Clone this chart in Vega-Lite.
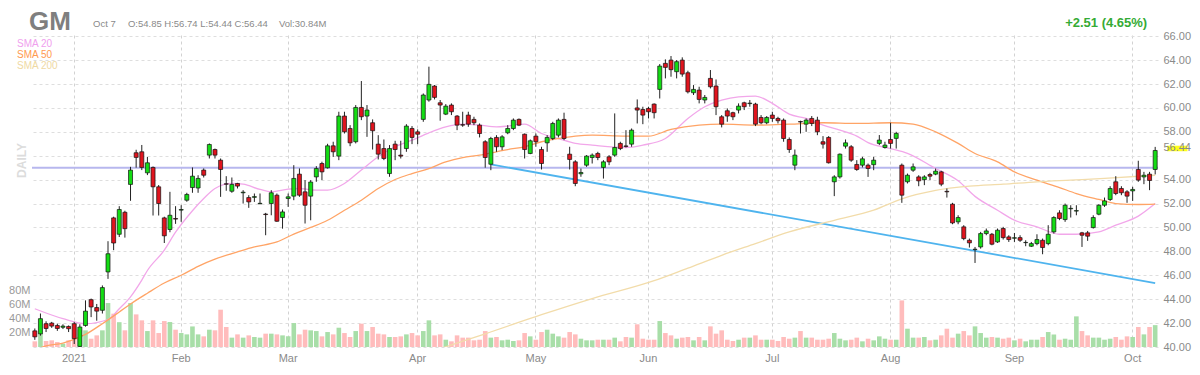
{
"$schema":"https://vega.github.io/schema/vega-lite/v6.json",
"width":1126,"height":312,
"autosize":{"type":"none"},
"padding":{"left":32,"top":35,"right":42,"bottom":28},
"config":{"view":{"stroke":null},"font":"Liberation Sans","axis":{"labelColor":"#8a8a8a","labelFontSize":11,"domain":false,"ticks":false,"tickSize":0,"gridDash":[3,3],"labelOverlap":false,"labelBound":false}},
"title":{"text":"GM","anchor":"start","frame":"group","fontSize":26,"font":"Liberation Sans","fontWeight":"bold","color":"#7f7f7f","dx":-3,"dy":20,"offset":2},
"datasets":{
"p":[
{"d":"2020-12-22","o":41.35,"h":41.55,"l":40.6,"c":40.85,"v":8},
{"d":"2020-12-23","o":41.1,"h":42.8,"l":40.95,"c":42.37,"v":18.8},
{"d":"2020-12-24","o":41.95,"h":42.15,"l":41.25,"c":41.55,"v":8.5},
{"d":"2020-12-28","o":42.0,"h":42.1,"l":41.6,"c":41.75,"v":9.4},
{"d":"2020-12-29","o":41.8,"h":41.95,"l":41.35,"c":41.55,"v":7},
{"d":"2020-12-30","o":41.65,"h":41.9,"l":41.5,"c":41.75,"v":4.7},
{"d":"2020-12-31","o":41.72,"h":41.8,"l":41.25,"c":41.53,"v":9.4},
{"d":"2021-01-04","o":41.95,"h":42.1,"l":40.25,"c":40.7,"v":11.7},
{"d":"2021-01-05","o":40.05,"h":41.9,"l":40.0,"c":41.67,"v":24.4},
{"d":"2021-01-06","o":41.8,"h":43.9,"l":41.7,"c":43.0,"v":23.5},
{"d":"2021-01-07","o":43.96,"h":44.05,"l":42.5,"c":43.35,"v":11.7},
{"d":"2021-01-08","o":43.3,"h":43.6,"l":42.2,"c":43.0,"v":16.4},
{"d":"2021-01-11","o":43.07,"h":45.15,"l":42.8,"c":44.97,"v":23.5},
{"d":"2021-01-12","o":46.28,"h":48.85,"l":45.7,"c":47.8,"v":62},
{"d":"2021-01-13","o":50.8,"h":50.9,"l":48.1,"c":48.7,"v":47},
{"d":"2021-01-14","o":49.43,"h":51.78,"l":49.2,"c":51.5,"v":35},
{"d":"2021-01-15","o":51.27,"h":51.4,"l":49.15,"c":49.9,"v":23.5},
{"d":"2021-01-19","o":53.6,"h":55.07,"l":52.23,"c":54.8,"v":62},
{"d":"2021-01-20","o":56.25,"h":56.5,"l":55.0,"c":55.86,"v":46},
{"d":"2021-01-21","o":56.33,"h":56.9,"l":54.8,"c":55.02,"v":37.6},
{"d":"2021-01-22","o":54.57,"h":55.9,"l":54.38,"c":55.41,"v":22.5},
{"d":"2021-01-25","o":55.02,"h":55.1,"l":51.0,"c":53.4,"v":37.6},
{"d":"2021-01-26","o":53.4,"h":53.55,"l":51.0,"c":52.0,"v":19.7},
{"d":"2021-01-27","o":50.8,"h":50.9,"l":48.7,"c":49.3,"v":36.6},
{"d":"2021-01-28","o":49.83,"h":52.98,"l":49.6,"c":51.02,"v":35.2},
{"d":"2021-01-29","o":50.75,"h":51.78,"l":50.3,"c":50.7,"v":24.4},
{"d":"2021-02-01","o":51.45,"h":51.86,"l":50.47,"c":51.5,"v":19.7},
{"d":"2021-02-02","o":52.28,"h":52.9,"l":52.15,"c":52.76,"v":17.8},
{"d":"2021-02-03","o":53.34,"h":55.02,"l":52.9,"c":54.29,"v":29},
{"d":"2021-02-04","o":53.3,"h":54.37,"l":52.9,"c":54.1,"v":17.8},
{"d":"2021-02-05","o":54.8,"h":54.94,"l":54.18,"c":54.37,"v":15},
{"d":"2021-02-08","o":56.05,"h":57.03,"l":55.77,"c":56.94,"v":24.4},
{"d":"2021-02-09","o":56.52,"h":56.6,"l":55.77,"c":56.05,"v":23.5},
{"d":"2021-02-10","o":55.63,"h":55.77,"l":52.56,"c":54.85,"v":52.6},
{"d":"2021-02-11","o":53.65,"h":54.29,"l":53.07,"c":53.62,"v":28.2},
{"d":"2021-02-12","o":53.03,"h":54.18,"l":52.9,"c":53.6,"v":13.2},
{"d":"2021-02-16","o":53.68,"h":53.73,"l":53.26,"c":53.46,"v":17.8},
{"d":"2021-02-17","o":52.9,"h":53.12,"l":52.0,"c":52.95,"v":13.2},
{"d":"2021-02-18","o":52.5,"h":52.7,"l":51.64,"c":52.14,"v":16.4},
{"d":"2021-02-19","o":52.52,"h":52.84,"l":52.14,"c":52.58,"v":14.1},
{"d":"2021-02-22","o":51.98,"h":52.84,"l":51.95,"c":52.02,"v":13.2},
{"d":"2021-02-23","o":51.12,"h":51.22,"l":49.35,"c":51.08,"v":18.8},
{"d":"2021-02-24","o":52.0,"h":53.12,"l":51.02,"c":52.9,"v":18.8},
{"d":"2021-02-25","o":52.7,"h":52.84,"l":50.47,"c":50.52,"v":17.8},
{"d":"2021-02-26","o":50.83,"h":51.5,"l":49.9,"c":51.3,"v":16.4},
{"d":"2021-03-01","o":52.42,"h":52.84,"l":51.72,"c":52.56,"v":15},
{"d":"2021-03-02","o":52.62,"h":55.21,"l":52.28,"c":54.1,"v":33.8},
{"d":"2021-03-03","o":54.46,"h":54.94,"l":52.56,"c":52.7,"v":17.8},
{"d":"2021-03-04","o":52.98,"h":53.96,"l":50.33,"c":51.86,"v":24.4},
{"d":"2021-03-05","o":52.62,"h":53.96,"l":50.6,"c":53.8,"v":23.5},
{"d":"2021-03-08","o":54.23,"h":55.13,"l":53.82,"c":54.93,"v":22.5},
{"d":"2021-03-09","o":55.35,"h":55.5,"l":53.96,"c":54.65,"v":15},
{"d":"2021-03-10","o":54.99,"h":57.0,"l":54.93,"c":56.83,"v":21.1},
{"d":"2021-03-11","o":56.83,"h":57.17,"l":55.9,"c":56.33,"v":17.8},
{"d":"2021-03-12","o":55.97,"h":59.68,"l":55.63,"c":59.32,"v":27.2},
{"d":"2021-03-15","o":59.32,"h":59.68,"l":57.86,"c":58.0,"v":19.7},
{"d":"2021-03-16","o":58.28,"h":58.56,"l":56.8,"c":57.08,"v":14.1},
{"d":"2021-03-17","o":57.17,"h":60.24,"l":57.03,"c":60.04,"v":22.5},
{"d":"2021-03-18","o":60.04,"h":62.25,"l":58.98,"c":59.26,"v":32.9},
{"d":"2021-03-19","o":59.32,"h":60.24,"l":57.58,"c":59.82,"v":22.5},
{"d":"2021-03-22","o":58.76,"h":59.04,"l":56.52,"c":58.09,"v":28.2},
{"d":"2021-03-23","o":56.97,"h":57.72,"l":55.69,"c":56.13,"v":18.8},
{"d":"2021-03-24","o":56.6,"h":57.36,"l":55.63,"c":55.77,"v":17.8},
{"d":"2021-03-25","o":54.51,"h":56.89,"l":54.24,"c":56.6,"v":14.1},
{"d":"2021-03-26","o":56.97,"h":57.25,"l":55.63,"c":56.52,"v":14.1},
{"d":"2021-03-29","o":56.05,"h":57.25,"l":55.77,"c":55.97,"v":15},
{"d":"2021-03-30","o":56.6,"h":58.64,"l":56.33,"c":58.48,"v":17.8},
{"d":"2021-03-31","o":58.28,"h":58.48,"l":56.97,"c":57.53,"v":19.7},
{"d":"2021-04-01","o":58.0,"h":58.2,"l":56.97,"c":57.8,"v":16.4},
{"d":"2021-04-05","o":59.04,"h":61.21,"l":58.84,"c":61.08,"v":22.5},
{"d":"2021-04-06","o":60.66,"h":63.45,"l":60.52,"c":61.97,"v":37.6},
{"d":"2021-04-07","o":61.83,"h":61.91,"l":60.71,"c":60.88,"v":16.4},
{"d":"2021-04-08","o":60.43,"h":60.66,"l":58.93,"c":60.24,"v":17.8},
{"d":"2021-04-09","o":59.48,"h":60.32,"l":59.4,"c":60.15,"v":10.3},
{"d":"2021-04-12","o":60.24,"h":60.38,"l":59.4,"c":59.68,"v":8},
{"d":"2021-04-13","o":59.32,"h":59.4,"l":58.14,"c":58.56,"v":16.4},
{"d":"2021-04-14","o":58.6,"h":59.68,"l":58.42,"c":58.56,"v":13.2},
{"d":"2021-04-15","o":59.4,"h":59.68,"l":58.42,"c":58.64,"v":13.2},
{"d":"2021-04-16","o":59.04,"h":59.26,"l":58.56,"c":58.76,"v":9.4},
{"d":"2021-04-19","o":58.56,"h":58.7,"l":57.53,"c":57.86,"v":10.3},
{"d":"2021-04-20","o":57.17,"h":57.3,"l":55.0,"c":55.85,"v":22.5},
{"d":"2021-04-21","o":55.29,"h":57.58,"l":54.79,"c":57.44,"v":13.2},
{"d":"2021-04-22","o":57.53,"h":57.72,"l":56.33,"c":56.75,"v":14.1},
{"d":"2021-04-23","o":56.75,"h":57.72,"l":56.47,"c":57.58,"v":9.4},
{"d":"2021-04-26","o":57.92,"h":58.56,"l":57.8,"c":58.28,"v":10.3},
{"d":"2021-04-27","o":58.28,"h":59.12,"l":58.14,"c":58.98,"v":8.5},
{"d":"2021-04-28","o":59.04,"h":59.12,"l":58.48,"c":58.56,"v":9.4},
{"d":"2021-04-29","o":57.8,"h":57.86,"l":55.77,"c":56.52,"v":19.7},
{"d":"2021-04-30","o":56.19,"h":57.36,"l":56.13,"c":57.25,"v":15},
{"d":"2021-05-03","o":57.64,"h":57.86,"l":56.75,"c":57.17,"v":10.3},
{"d":"2021-05-04","o":56.52,"h":56.75,"l":54.85,"c":55.35,"v":21.1},
{"d":"2021-05-05","o":57.08,"h":57.72,"l":56.33,"c":57.53,"v":24.4},
{"d":"2021-05-06","o":57.44,"h":58.84,"l":57.3,"c":58.7,"v":18.8},
{"d":"2021-05-07","o":57.72,"h":59.12,"l":57.53,"c":58.98,"v":15},
{"d":"2021-05-10","o":59.04,"h":59.6,"l":57.3,"c":57.44,"v":13.2},
{"d":"2021-05-11","o":56.13,"h":56.75,"l":54.85,"c":55.69,"v":21.1},
{"d":"2021-05-12","o":55.49,"h":55.63,"l":53.45,"c":53.68,"v":17.8},
{"d":"2021-05-13","o":54.49,"h":54.93,"l":54.24,"c":54.6,"v":11.7},
{"d":"2021-05-14","o":55.21,"h":56.05,"l":55.07,"c":55.97,"v":9.4},
{"d":"2021-05-17","o":55.85,"h":56.19,"l":55.35,"c":56.05,"v":9.4},
{"d":"2021-05-18","o":56.19,"h":56.33,"l":55.63,"c":55.85,"v":10.3},
{"d":"2021-05-19","o":55.02,"h":55.63,"l":54.09,"c":55.49,"v":10.3},
{"d":"2021-05-20","o":55.91,"h":56.05,"l":55.21,"c":55.49,"v":10.3},
{"d":"2021-05-21","o":56.05,"h":59.54,"l":55.91,"c":56.69,"v":13.2},
{"d":"2021-05-24","o":57.03,"h":57.17,"l":56.47,"c":56.6,"v":8},
{"d":"2021-05-25","o":56.82,"h":58.14,"l":56.69,"c":56.78,"v":14.1},
{"d":"2021-05-26","o":56.97,"h":58.28,"l":56.75,"c":58.14,"v":13.2},
{"d":"2021-05-27","o":60.0,"h":60.71,"l":58.7,"c":59.82,"v":32},
{"d":"2021-05-28","o":59.87,"h":60.1,"l":58.64,"c":59.4,"v":11.7},
{"d":"2021-06-01","o":59.96,"h":60.1,"l":59.12,"c":59.68,"v":10.3},
{"d":"2021-06-02","o":60.32,"h":60.38,"l":59.12,"c":59.6,"v":10.3},
{"d":"2021-06-03","o":61.55,"h":63.67,"l":60.79,"c":63.5,"v":36.6},
{"d":"2021-06-04","o":63.73,"h":64.06,"l":62.47,"c":63.39,"v":19.7},
{"d":"2021-06-07","o":64.0,"h":64.34,"l":62.61,"c":63.2,"v":16.4},
{"d":"2021-06-08","o":63.03,"h":64.0,"l":62.47,"c":63.87,"v":11.7},
{"d":"2021-06-09","o":64.0,"h":64.23,"l":62.61,"c":62.83,"v":13.2},
{"d":"2021-06-10","o":62.94,"h":63.11,"l":61.21,"c":61.35,"v":14.1},
{"d":"2021-06-11","o":61.27,"h":61.91,"l":61.08,"c":61.55,"v":9.4},
{"d":"2021-06-14","o":61.49,"h":61.77,"l":60.38,"c":60.71,"v":14.1},
{"d":"2021-06-15","o":60.66,"h":61.08,"l":60.38,"c":60.88,"v":9.4},
{"d":"2021-06-16","o":62.47,"h":63.17,"l":61.63,"c":61.77,"v":29.1},
{"d":"2021-06-17","o":61.83,"h":62.38,"l":59.4,"c":60.1,"v":18.8},
{"d":"2021-06-18","o":59.26,"h":59.4,"l":58.37,"c":58.64,"v":23.5},
{"d":"2021-06-21","o":59.76,"h":59.96,"l":58.84,"c":59.32,"v":10.3},
{"d":"2021-06-22","o":59.6,"h":59.68,"l":58.98,"c":59.26,"v":8.5},
{"d":"2021-06-23","o":59.82,"h":60.38,"l":59.54,"c":60.15,"v":10.3},
{"d":"2021-06-24","o":60.43,"h":60.52,"l":59.82,"c":60.1,"v":13.2},
{"d":"2021-06-25","o":60.36,"h":60.66,"l":60.1,"c":60.4,"v":13.2},
{"d":"2021-06-28","o":60.32,"h":60.43,"l":58.48,"c":58.64,"v":16.4},
{"d":"2021-06-29","o":59.2,"h":59.4,"l":58.64,"c":58.76,"v":10.3},
{"d":"2021-06-30","o":58.76,"h":59.32,"l":58.64,"c":59.2,"v":10.3},
{"d":"2021-07-01","o":59.4,"h":59.68,"l":58.84,"c":59.12,"v":10.3},
{"d":"2021-07-02","o":59.12,"h":59.26,"l":58.7,"c":58.93,"v":8.5},
{"d":"2021-07-06","o":58.98,"h":59.12,"l":57.17,"c":57.44,"v":14.1},
{"d":"2021-07-07","o":57.36,"h":57.53,"l":56.24,"c":56.52,"v":11.7},
{"d":"2021-07-08","o":55.21,"h":56.52,"l":54.79,"c":56.05,"v":13.2},
{"d":"2021-07-09","o":58.86,"h":58.93,"l":57.86,"c":58.82,"v":22.5},
{"d":"2021-07-12","o":58.64,"h":59.12,"l":58.0,"c":58.98,"v":13.2},
{"d":"2021-07-13","o":59.12,"h":59.32,"l":58.48,"c":58.7,"v":13.2},
{"d":"2021-07-14","o":58.98,"h":59.26,"l":57.72,"c":58.0,"v":10.3},
{"d":"2021-07-15","o":57.17,"h":57.64,"l":56.6,"c":56.97,"v":10.3},
{"d":"2021-07-16","o":57.53,"h":57.64,"l":55.35,"c":55.41,"v":11.7},
{"d":"2021-07-19","o":53.82,"h":54.37,"l":52.62,"c":54.23,"v":19.7},
{"d":"2021-07-20","o":54.23,"h":56.19,"l":54.09,"c":56.13,"v":11.7},
{"d":"2021-07-21","o":56.8,"h":57.36,"l":56.6,"c":57.08,"v":9.4},
{"d":"2021-07-22","o":56.75,"h":56.89,"l":55.49,"c":55.63,"v":10.3},
{"d":"2021-07-23","o":55.27,"h":55.63,"l":54.74,"c":54.85,"v":13.2},
{"d":"2021-07-26","o":55.21,"h":55.91,"l":55.02,"c":55.74,"v":8},
{"d":"2021-07-27","o":55.21,"h":55.35,"l":54.23,"c":54.93,"v":11.7},
{"d":"2021-07-28","o":55.25,"h":55.91,"l":54.79,"c":55.63,"v":9.4},
{"d":"2021-07-29","o":57.03,"h":57.73,"l":56.89,"c":57.31,"v":15},
{"d":"2021-07-30","o":56.69,"h":57.17,"l":56.6,"c":56.89,"v":11.7},
{"d":"2021-08-02","o":57.36,"h":58.76,"l":56.6,"c":57.03,"v":10.3},
{"d":"2021-08-03","o":57.45,"h":58.0,"l":56.6,"c":57.87,"v":10.3},
{"d":"2021-08-04","o":55.21,"h":55.35,"l":52.06,"c":52.7,"v":65.7},
{"d":"2021-08-05","o":53.82,"h":54.51,"l":53.68,"c":54.37,"v":25.8},
{"d":"2021-08-06","o":54.79,"h":55.35,"l":54.65,"c":55.07,"v":13.2},
{"d":"2021-08-09","o":54.23,"h":54.37,"l":53.45,"c":53.9,"v":13.2},
{"d":"2021-08-10","o":54.0,"h":54.37,"l":53.54,"c":54.23,"v":14.1},
{"d":"2021-08-11","o":54.43,"h":54.57,"l":53.96,"c":54.29,"v":9.4},
{"d":"2021-08-12","o":54.46,"h":54.93,"l":54.37,"c":54.71,"v":10.3},
{"d":"2021-08-13","o":54.65,"h":54.74,"l":53.45,"c":53.62,"v":16.4},
{"d":"2021-08-16","o":53.02,"h":53.26,"l":52.5,"c":52.98,"v":25.8},
{"d":"2021-08-17","o":51.95,"h":52.06,"l":50.27,"c":50.38,"v":13.2},
{"d":"2021-08-18","o":50.47,"h":51.02,"l":50.27,"c":50.83,"v":18.8},
{"d":"2021-08-19","o":50.05,"h":50.19,"l":48.93,"c":49.07,"v":22.5},
{"d":"2021-08-20","o":48.93,"h":49.07,"l":48.32,"c":48.71,"v":16.4},
{"d":"2021-08-23","o":48.15,"h":48.37,"l":47.03,"c":48.18,"v":29.1},
{"d":"2021-08-24","o":48.37,"h":49.63,"l":48.23,"c":49.49,"v":19.7},
{"d":"2021-08-25","o":49.49,"h":49.91,"l":49.35,"c":49.71,"v":13.2},
{"d":"2021-08-26","o":49.43,"h":49.54,"l":48.51,"c":48.6,"v":14.1},
{"d":"2021-08-27","o":48.79,"h":49.91,"l":48.71,"c":49.77,"v":13.2},
{"d":"2021-08-30","o":49.91,"h":50.05,"l":48.99,"c":49.15,"v":11.7},
{"d":"2021-08-31","o":49.21,"h":49.35,"l":48.79,"c":48.99,"v":13.2},
{"d":"2021-09-01","o":49.1,"h":49.54,"l":48.79,"c":49.14,"v":9.4},
{"d":"2021-09-02","o":49.15,"h":49.35,"l":48.79,"c":48.93,"v":11.7},
{"d":"2021-09-03","o":48.73,"h":48.93,"l":48.43,"c":48.75,"v":8},
{"d":"2021-09-07","o":48.43,"h":48.79,"l":48.37,"c":48.65,"v":10.3},
{"d":"2021-09-08","o":48.65,"h":49.43,"l":48.51,"c":48.99,"v":10.3},
{"d":"2021-09-09","o":48.93,"h":49.07,"l":47.76,"c":48.32,"v":14.1},
{"d":"2021-09-10","o":48.65,"h":50.19,"l":48.51,"c":49.43,"v":21.1},
{"d":"2021-09-13","o":49.63,"h":50.94,"l":49.49,"c":50.83,"v":17.8},
{"d":"2021-09-14","o":51.22,"h":51.44,"l":50.61,"c":50.75,"v":10.3},
{"d":"2021-09-15","o":50.66,"h":52.0,"l":50.47,"c":51.86,"v":11.7},
{"d":"2021-09-16","o":51.56,"h":51.86,"l":50.83,"c":51.6,"v":10.3},
{"d":"2021-09-17","o":51.37,"h":51.86,"l":51.02,"c":51.41,"v":43.2},
{"d":"2021-09-20","o":49.55,"h":49.63,"l":48.37,"c":49.35,"v":22.5},
{"d":"2021-09-21","o":49.55,"h":49.71,"l":48.88,"c":49.27,"v":16.4},
{"d":"2021-09-22","o":49.99,"h":51.02,"l":49.91,"c":50.83,"v":13.2},
{"d":"2021-09-23","o":51.11,"h":51.95,"l":51.02,"c":51.86,"v":13.2},
{"d":"2021-09-24","o":51.86,"h":52.5,"l":51.72,"c":52.22,"v":10.3},
{"d":"2021-09-27","o":52.34,"h":53.45,"l":52.22,"c":53.26,"v":11.7},
{"d":"2021-09-28","o":53.82,"h":54.29,"l":52.7,"c":52.84,"v":14.1},
{"d":"2021-09-29","o":53.26,"h":53.45,"l":52.7,"c":52.9,"v":10.3},
{"d":"2021-09-30","o":52.98,"h":53.12,"l":52.06,"c":52.62,"v":15},
{"d":"2021-10-01","o":53.06,"h":53.4,"l":52.22,"c":53.18,"v":14.1},
{"d":"2021-10-04","o":54.85,"h":55.58,"l":53.82,"c":53.96,"v":28.2},
{"d":"2021-10-05","o":54.23,"h":54.65,"l":53.62,"c":54.37,"v":17.8},
{"d":"2021-10-06","o":54.46,"h":54.65,"l":53.12,"c":53.93,"v":28.2},
{"d":"2021-10-07","o":54.85,"h":56.74,"l":54.44,"c":56.44,"v":30.84}
],
"s":[
{"d":"2020-12-22","k":"SMA 20","v":43.2},{"d":"2020-12-30","k":"SMA 20","v":42.37},{"d":"2021-01-06","k":"SMA 20","v":41.95},{"d":"2021-01-12","k":"SMA 20","v":42.3},{"d":"2021-01-14","k":"SMA 20","v":43.2},{"d":"2021-01-19","k":"SMA 20","v":44.2},{"d":"2021-01-21","k":"SMA 20","v":45.6},{"d":"2021-01-22","k":"SMA 20","v":46.4},{"d":"2021-01-27","k":"SMA 20","v":48.1},{"d":"2021-01-29","k":"SMA 20","v":49.6},{"d":"2021-02-03","k":"SMA 20","v":51.4},{"d":"2021-02-05","k":"SMA 20","v":52.42},{"d":"2021-02-09","k":"SMA 20","v":53.26},{"d":"2021-02-12","k":"SMA 20","v":53.68},{"d":"2021-02-17","k":"SMA 20","v":53.62},{"d":"2021-02-22","k":"SMA 20","v":53.18},{"d":"2021-02-24","k":"SMA 20","v":52.98},{"d":"2021-03-01","k":"SMA 20","v":53.2},{"d":"2021-03-03","k":"SMA 20","v":53.26},{"d":"2021-03-08","k":"SMA 20","v":53.12},{"d":"2021-03-10","k":"SMA 20","v":53.12},{"d":"2021-03-15","k":"SMA 20","v":53.68},{"d":"2021-03-18","k":"SMA 20","v":54.8},{"d":"2021-03-23","k":"SMA 20","v":55.91},{"d":"2021-03-26","k":"SMA 20","v":56.75},{"d":"2021-03-31","k":"SMA 20","v":57.3},{"d":"2021-04-06","k":"SMA 20","v":57.92},{"d":"2021-04-09","k":"SMA 20","v":58.42},{"d":"2021-04-14","k":"SMA 20","v":58.64},{"d":"2021-04-19","k":"SMA 20","v":58.56},{"d":"2021-04-22","k":"SMA 20","v":58.42},{"d":"2021-04-26","k":"SMA 20","v":58.48},{"d":"2021-04-29","k":"SMA 20","v":58.64},{"d":"2021-05-04","k":"SMA 20","v":57.86},{"d":"2021-05-07","k":"SMA 20","v":57.44},{"d":"2021-05-12","k":"SMA 20","v":57.03},{"d":"2021-05-17","k":"SMA 20","v":56.89},{"d":"2021-05-25","k":"SMA 20","v":56.69},{"d":"2021-05-28","k":"SMA 20","v":56.89},{"d":"2021-06-04","k":"SMA 20","v":57.44},{"d":"2021-06-10","k":"SMA 20","v":59.12},{"d":"2021-06-15","k":"SMA 20","v":60.1},{"d":"2021-06-18","k":"SMA 20","v":60.66},{"d":"2021-06-23","k":"SMA 20","v":60.93},{"d":"2021-06-28","k":"SMA 20","v":60.99},{"d":"2021-07-01","k":"SMA 20","v":60.38},{"d":"2021-07-07","k":"SMA 20","v":59.48},{"d":"2021-07-12","k":"SMA 20","v":59.12},{"d":"2021-07-15","k":"SMA 20","v":58.56},{"d":"2021-07-20","k":"SMA 20","v":58.14},{"d":"2021-07-23","k":"SMA 20","v":57.64},{"d":"2021-07-27","k":"SMA 20","v":57.1},{"d":"2021-08-02","k":"SMA 20","v":56.6},{"d":"2021-08-05","k":"SMA 20","v":56.2},{"d":"2021-08-12","k":"SMA 20","v":54.93},{"d":"2021-08-18","k":"SMA 20","v":53.9},{"d":"2021-08-23","k":"SMA 20","v":52.6},{"d":"2021-08-27","k":"SMA 20","v":51.44},{"d":"2021-09-01","k":"SMA 20","v":50.61},{"d":"2021-09-08","k":"SMA 20","v":50.05},{"d":"2021-09-14","k":"SMA 20","v":49.43},{"d":"2021-09-17","k":"SMA 20","v":49.43},{"d":"2021-09-23","k":"SMA 20","v":49.63},{"d":"2021-09-28","k":"SMA 20","v":50.19},{"d":"2021-10-04","k":"SMA 20","v":50.95},{"d":"2021-10-07","k":"SMA 20","v":52.0},
{"d":"2020-12-22","k":"SMA 50","v":39.75},{"d":"2020-12-24","k":"SMA 50","v":40.1},{"d":"2020-12-30","k":"SMA 50","v":40.33},{"d":"2021-01-06","k":"SMA 50","v":41.05},{"d":"2021-01-11","k":"SMA 50","v":41.95},{"d":"2021-01-14","k":"SMA 50","v":42.93},{"d":"2021-01-19","k":"SMA 50","v":43.6},{"d":"2021-01-22","k":"SMA 50","v":44.5},{"d":"2021-01-27","k":"SMA 50","v":45.35},{"d":"2021-02-01","k":"SMA 50","v":46.0},{"d":"2021-02-04","k":"SMA 50","v":46.75},{"d":"2021-02-09","k":"SMA 50","v":47.35},{"d":"2021-02-16","k":"SMA 50","v":47.95},{"d":"2021-02-19","k":"SMA 50","v":48.37},{"d":"2021-02-25","k":"SMA 50","v":48.79},{"d":"2021-03-02","k":"SMA 50","v":49.45},{"d":"2021-03-05","k":"SMA 50","v":50.0},{"d":"2021-03-10","k":"SMA 50","v":50.6},{"d":"2021-03-15","k":"SMA 50","v":51.44},{"d":"2021-03-18","k":"SMA 50","v":52.28},{"d":"2021-03-23","k":"SMA 50","v":53.26},{"d":"2021-03-26","k":"SMA 50","v":54.01},{"d":"2021-03-31","k":"SMA 50","v":54.51},{"d":"2021-04-06","k":"SMA 50","v":54.93},{"d":"2021-04-09","k":"SMA 50","v":55.49},{"d":"2021-04-14","k":"SMA 50","v":55.85},{"d":"2021-04-19","k":"SMA 50","v":56.05},{"d":"2021-04-22","k":"SMA 50","v":56.33},{"d":"2021-04-26","k":"SMA 50","v":56.52},{"d":"2021-04-29","k":"SMA 50","v":56.75},{"d":"2021-05-04","k":"SMA 50","v":57.17},{"d":"2021-05-07","k":"SMA 50","v":57.44},{"d":"2021-05-12","k":"SMA 50","v":57.64},{"d":"2021-05-17","k":"SMA 50","v":57.72},{"d":"2021-05-25","k":"SMA 50","v":57.64},{"d":"2021-06-01","k":"SMA 50","v":57.64},{"d":"2021-06-07","k":"SMA 50","v":58.2},{"d":"2021-06-14","k":"SMA 50","v":58.56},{"d":"2021-06-18","k":"SMA 50","v":58.64},{"d":"2021-06-28","k":"SMA 50","v":58.56},{"d":"2021-07-07","k":"SMA 50","v":58.64},{"d":"2021-07-15","k":"SMA 50","v":58.76},{"d":"2021-07-23","k":"SMA 50","v":58.7},{"d":"2021-08-02","k":"SMA 50","v":58.76},{"d":"2021-08-06","k":"SMA 50","v":58.65},{"d":"2021-08-12","k":"SMA 50","v":58.0},{"d":"2021-08-18","k":"SMA 50","v":57.03},{"d":"2021-08-23","k":"SMA 50","v":56.19},{"d":"2021-08-27","k":"SMA 50","v":55.49},{"d":"2021-09-01","k":"SMA 50","v":54.65},{"d":"2021-09-08","k":"SMA 50","v":53.96},{"d":"2021-09-14","k":"SMA 50","v":53.34},{"d":"2021-09-17","k":"SMA 50","v":52.84},{"d":"2021-09-23","k":"SMA 50","v":52.34},{"d":"2021-09-28","k":"SMA 50","v":52.0},{"d":"2021-10-04","k":"SMA 50","v":51.92},{"d":"2021-10-07","k":"SMA 50","v":51.95},
{"d":"2021-04-06","k":"SMA 200","v":39.55},{"d":"2021-04-09","k":"SMA 200","v":40.02},{"d":"2021-04-20","k":"SMA 200","v":41.1},{"d":"2021-05-04","k":"SMA 200","v":42.7},{"d":"2021-05-17","k":"SMA 200","v":44.05},{"d":"2021-06-02","k":"SMA 200","v":45.55},{"d":"2021-06-10","k":"SMA 200","v":46.6},{"d":"2021-06-18","k":"SMA 200","v":47.67},{"d":"2021-06-28","k":"SMA 200","v":48.65},{"d":"2021-07-07","k":"SMA 200","v":49.63},{"d":"2021-07-19","k":"SMA 200","v":50.6},{"d":"2021-07-28","k":"SMA 200","v":51.45},{"d":"2021-08-04","k":"SMA 200","v":52.4},{"d":"2021-08-12","k":"SMA 200","v":53.1},{"d":"2021-08-20","k":"SMA 200","v":53.45},{"d":"2021-08-30","k":"SMA 200","v":53.62},{"d":"2021-09-08","k":"SMA 200","v":53.82},{"d":"2021-09-16","k":"SMA 200","v":53.96},{"d":"2021-09-24","k":"SMA 200","v":54.1},{"d":"2021-10-07","k":"SMA 200","v":54.37}
],
"t":[{"d":"2021-04-21","p":55.27},{"d":"2021-10-07","p":45.35}]
},
"layer":[
{"data":{"name":"p"},
 "mark":{"type":"bar","size":4.6},
 "encoding":{
  "x":{"field":"d","type":"ordinal","title":null,"scale":{"paddingInner":0,"paddingOuter":0},
   "axis":{"values":["2021-01-04","2021-02-01","2021-03-01","2021-04-01","2021-05-03","2021-06-01","2021-07-01","2021-08-02","2021-09-01","2021-10-01"],
    "labelExpr":"datum.value == '2021-01-04' ? '2021' : timeFormat(datetime(2021, toNumber(substring(datum.value,5,7))-1, 1), '%b')",
    "labelAngle":0,"labelPadding":5,"labelOverlap":false,"grid":true,"gridColor":"#d2d2d2","gridDash":[3,3],"bandPosition":0.5,"title":null}},
  "y":{"field":"v","type":"quantitative","title":"DAILY","scale":{"domain":[0,440],"nice":false},
   "axis":{"orient":"left","values":[20,40,60,80],"labelExpr":"datum.value + 'M'","grid":false,"labelPadding":2,"labelColor":"#999999","labelOverlap":false,
    "title":"DAILY","titleX":-11,"titleY":125,"titleAngle":270,"titleBaseline":"middle","titleAlign":"center","titleColor":"#dcdcdc","titleFont":"Liberation Sans","titleFontSize":12,"titleFontWeight":"bold"}},
  "color":{"condition":{"test":"datum.c >= datum.o","value":"#a8dea8"},"value":"#ffbcbc"}
 }},
{"layer":[
 {"data":{"values":[{}]},
  "mark":{"type":"rule","color":"#b7b7ee","strokeWidth":2},
  "encoding":{"y":{"datum":55.0,"type":"quantitative","title":null,"scale":{"domain":[40,66.1],"nice":false,"zero":false},
   "axis":{"orient":"right","values":[40,42,44,46,48,50,52,54,56,58,60,62,64,66],"tickCount":14,"labelExpr":"datum.value == 56 ? '' : format(datum.value, '.2f')","labelOverlap":false,"labelPadding":5,"grid":true,"gridColor":"#dedede","gridDash":[3,3],"title":null}}}},
 {"data":{"name":"t"},
  "mark":{"type":"line","color":"#4fb4ee","strokeWidth":1.8},
  "encoding":{"x":{"field":"d","type":"ordinal","title":null},"y":{"field":"p","type":"quantitative","title":null}}},
 {"data":{"name":"s"},
  "mark":{"type":"line","strokeWidth":1.3,"interpolate":"monotone","clip":true},
  "encoding":{"x":{"field":"d","type":"ordinal","title":null},"y":{"field":"v","type":"quantitative","title":null},
   "detail":{"field":"k"},
   "color":{"field":"k","type":"nominal","scale":{"domain":["SMA 20","SMA 50","SMA 200"],"range":["#f2a7ea","#ffa466","#f2dcaa"]},
    "legend":{"orient":"none","legendX":-25,"legendY":4,"title":null,"symbolSize":0,"symbolOpacity":0,"symbolStrokeWidth":0,"labelOffset":0,"padding":0,"rowPadding":0.8,
     "labelFont":"Liberation Sans","labelFontSize":10,
     "labelColor":{"expr":"datum.label == 'SMA 20' ? '#f0a0ee' : datum.label == 'SMA 50' ? '#ff9a50' : '#efd9a3'"}}}}},
 {"data":{"name":"p"},
  "mark":{"type":"rule","color":"#222222","strokeWidth":1},
  "encoding":{"x":{"field":"d","type":"ordinal","title":null},"y":{"field":"l","type":"quantitative","title":null},"y2":{"field":"h"}}},
 {"data":{"name":"p"},
  "mark":{"type":"bar","size":4,"stroke":"#111111","strokeWidth":0.7},
  "encoding":{"x":{"field":"d","type":"ordinal","title":null},"y":{"field":"o","type":"quantitative","title":null},"y2":{"field":"c"},
   "color":{"condition":{"test":"datum.c >= datum.o","value":"#14dc14"},"value":"#e0141e"}}},
 {"data":{"values":[{}]},
  "mark":{"type":"point","shape":"M-1,-0.27L1,-0.27L1,0.27L-1,0.27Z","size":420,"filled":true,"color":"#ffff1a","opacity":1,"strokeWidth":0,"xOffset":22,"yOffset":-2},
  "encoding":{"x":{"datum":"2021-10-07","type":"ordinal"},"y":{"datum":56.44,"type":"quantitative"}}},
 {"data":{"values":[{}]},
  "mark":{"type":"text","text":"56.44","align":"center","baseline":"middle","dx":22,"dy":-2,"fontSize":11,"color":"#8a8a8a"},
  "encoding":{"x":{"datum":"2021-10-07","type":"ordinal"},"y":{"datum":56.44,"type":"quantitative"}}},
 {"data":{"values":[{}]},
  "mark":{"type":"text","text":"Oct 7","align":"left","baseline":"alphabetic","dx":2,"fontSize":9.5,"color":"#8a8a8a"},
  "encoding":{"x":{"datum":"2021-01-07","type":"ordinal"},"y":{"datum":66.77,"type":"quantitative"}}},
 {"data":{"values":[{}]},
  "mark":{"type":"text","text":"O:54.85 H:56.74 L:54.44 C:56.44","align":"left","baseline":"alphabetic","dx":3,"fontSize":9.5,"color":"#8a8a8a"},
  "encoding":{"x":{"datum":"2021-01-15","type":"ordinal"},"y":{"datum":66.77,"type":"quantitative"}}},
 {"data":{"values":[{}]},
  "mark":{"type":"text","text":"Vol:30.84M","align":"left","baseline":"alphabetic","dx":2,"fontSize":9.5,"color":"#8a8a8a"},
  "encoding":{"x":{"datum":"2021-02-25","type":"ordinal"},"y":{"datum":66.77,"type":"quantitative"}}},
 {"data":{"values":[{}]},
  "mark":{"type":"text","text":"+2.51 (4.65%)","align":"right","baseline":"alphabetic","dx":-8,"fontSize":13,"fontWeight":"bold","color":"#35ab35"},
  "encoding":{"x":{"datum":"2021-10-07","type":"ordinal"},"y":{"datum":66.77,"type":"quantitative"}}}
 ]}
],
"resolve":{"scale":{"y":"independent"},"axis":{"y":"independent"}}
}
